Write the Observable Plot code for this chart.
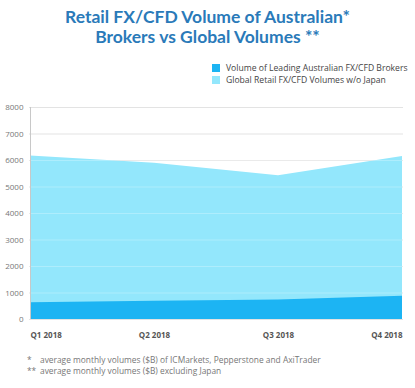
<!DOCTYPE html>
<html>
<head>
<meta charset="utf-8">
<script src="https://cdn.jsdelivr.net/npm/d3@7"></script>
<script src="https://cdn.jsdelivr.net/npm/@observablehq/plot@0.6"></script>
<style>
  body { margin: 0; background: #fff; width: 415px; height: 388px; overflow: hidden; position: relative; font-family: "Open Sans", sans-serif; }
  #title { position: absolute; top: 7px; left: 0; width: 415px; text-align: center; font-family: Lato, sans-serif; font-weight: 700; font-size: 17.5px; line-height: 20px; color: #2a7ab9; }
  #legend { position: absolute; top: 62px; left: 212px; font-size: 8.6px; color: #444; line-height: 12px; }
  #legend .sw { display: inline-block; width: 8px; height: 8px; margin-right: 6px; vertical-align: -1px; }
  #notes { position: absolute; top: 354px; left: 27px; font-size: 8.4px; color: #777; line-height: 11px; }
  #notes span.m { display: inline-block; width: 13px; }
  #chart { position: absolute; top: 0; left: 0; }
</style>
</head>
<body>
<div id="title">Retail FX/CFD Volume of Australian*<br>Brokers vs Global Volumes **</div>
<div id="legend"></div>
<div id="chart"></div>
<div id="notes"></div>
<script>
const quarters = ["Q1 2018", "Q2 2018", "Q3 2018", "Q4 2018"];
const globalVolumes = [6170, 5900, 5420, 6150];
const australianVolumes = [630, 690, 740, 880];
const yTicks = [0, 1000, 2000, 3000, 4000, 5000, 6000, 7000, 8000];
const seriesNames = ["Volume of Leading Australian FX/CFD Brokers", "Global Retail FX/CFD Volumes w/o Japan"];
const seriesColors = ["#1cb4f3", "#93e7fc"];
const footnotes = [["*", "average monthly volumes ($B) of ICMarkets, Pepperstone and AxiTrader"], ["**", "average monthly volumes ($B) excluding Japan"]];

const data = quarters.map((q, i) => ({q, global: globalVolumes[i], aus: australianVolumes[i]}));

document.getElementById("legend").innerHTML = seriesNames.map((n, i) =>
  `<div><span class="sw" style="background:${seriesColors[i]}"></span>${n}</div>`).join("");
document.getElementById("notes").innerHTML = footnotes.map(([m, t]) =>
  `<div><span class="m">${m}</span>${t}</div>`).join("");

const anchors = ["start", "middle", "middle", "end"];
const plot = Plot.plot({
  width: 415,
  height: 388,
  marginLeft: 29,
  marginRight: 12,
  marginTop: 107,
  marginBottom: 69,
  style: {fontFamily: "Open Sans, sans-serif", background: "transparent"},
  x: {type: "point", domain: quarters, padding: 0, axis: null},
  y: {domain: [0, 8000], axis: null},
  marks: [
    Plot.gridY(yTicks, {stroke: "#e3e3e3", strokeOpacity: 1}),
    Plot.areaY(data, {x: "q", y: "global", fill: seriesColors[1]}),
    Plot.areaY(data, {x: "q", y: "aus", fill: seriesColors[0]}),
    Plot.gridY(yTicks.filter(d => d > 0 && d < 7000), {stroke: "#ffffff", strokeOpacity: 0.25}),
    Plot.ruleX([quarters[0]], {y1: 0, y2: 8000, stroke: "#c8c8c8"}),
    Plot.text(yTicks, {y: d => d, text: d => String(d), frameAnchor: "left", dx: -6, textAnchor: "end", fontSize: 8, fill: "#777"}),
    ...quarters.map((q, i) => Plot.text([q], {x: d => d, y: () => 0, text: d => d, dy: 16, textAnchor: anchors[i], fontSize: 8, fontWeight: 700, fill: "#555"}))
  ]
});
document.getElementById("chart").appendChild(plot);
</script>
</body>
</html>
